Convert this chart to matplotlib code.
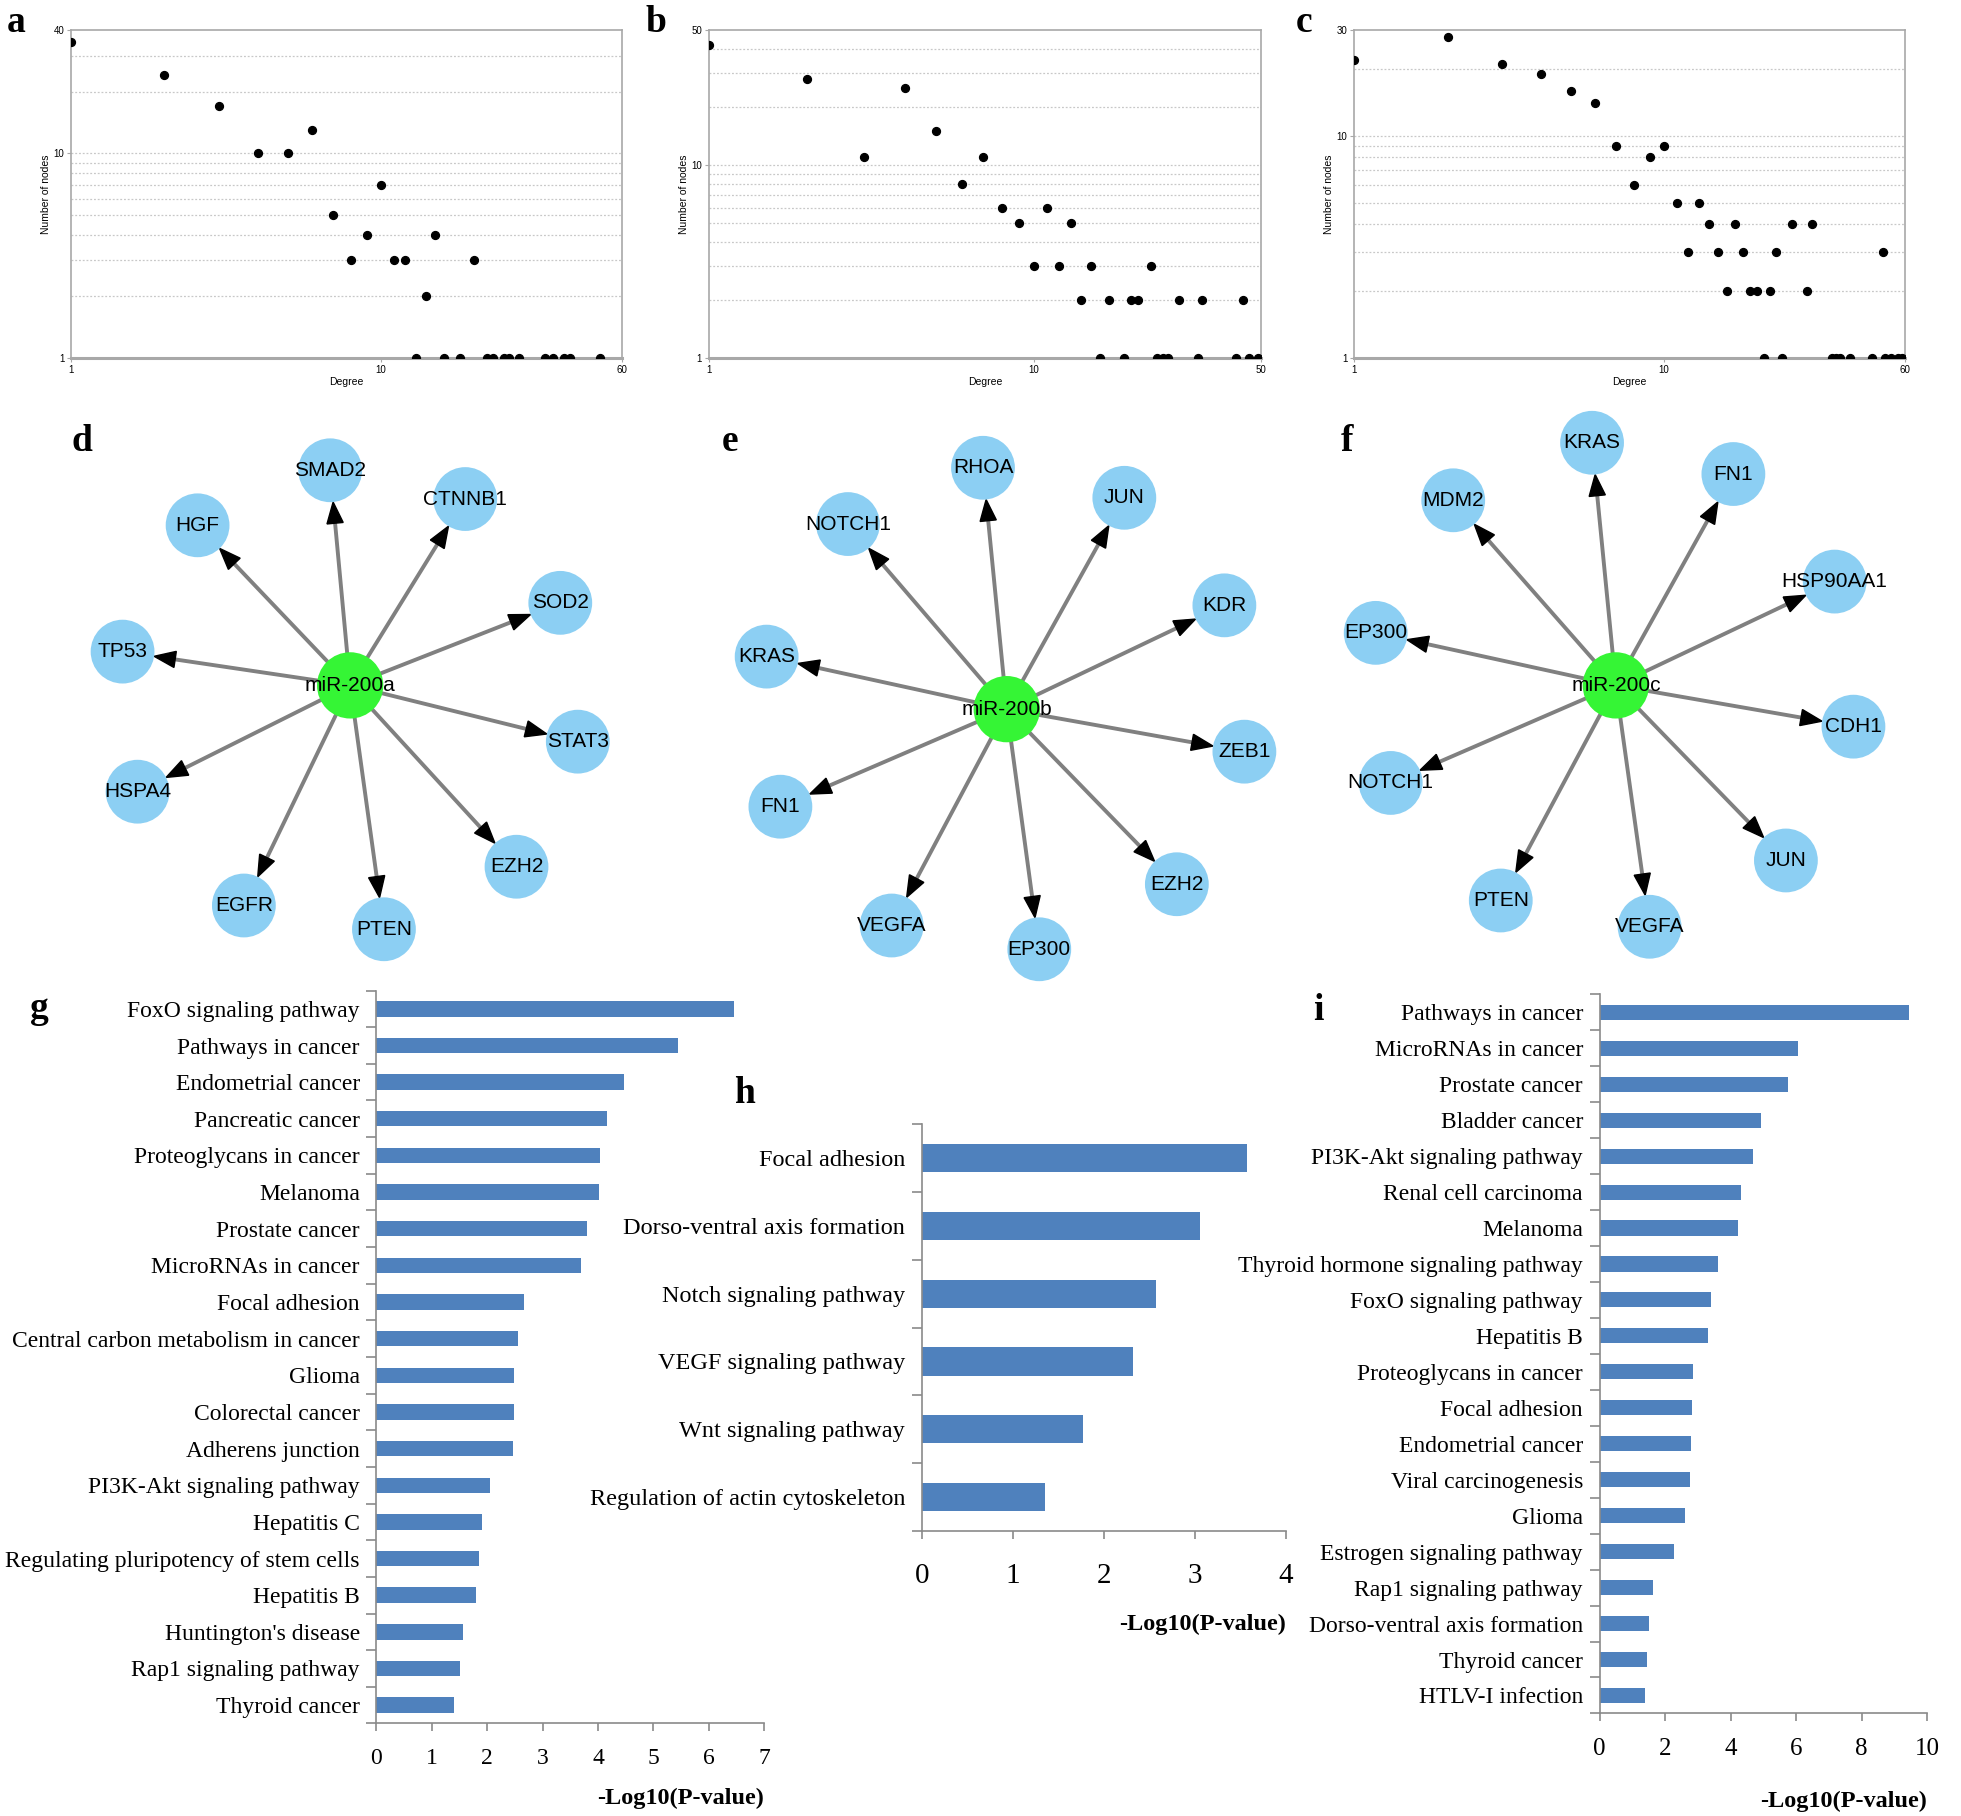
import numpy as np
import matplotlib
matplotlib.use('Agg')
import matplotlib.pyplot as plt
from matplotlib.patches import Circle, Polygon
from matplotlib.ticker import NullLocator

plt.rcParams['font.family'] = ['Liberation Sans', 'DejaVu Sans']

#### degree distributions (a, b, c)
deg_a = [1, 2, 3, 4, 5, 6, 7, 8, 9, 10, 11, 12, 14, 15, 20,
         13, 16, 18, 22, 23, 25, 26, 28, 34, 36, 39, 41, 51]
cnt_a = [35, 24, 17, 10, 10, 13, 5, 3, 4, 7, 3, 3, 2, 4, 3,
         1, 1, 1, 1, 1, 1, 1, 1, 1, 1, 1, 1, 1]

deg_b = [1, 2, 3, 4, 5, 6, 7, 8, 9, 10, 11, 12, 13, 15, 23,
         14, 17, 20, 21, 28, 33, 44,
         16, 19, 24, 25, 26, 32, 42, 46, 49]
cnt_b = [42, 28, 11, 25, 15, 8, 11, 6, 5, 3, 6, 3, 5, 3, 3,
         2, 2, 2, 2, 2, 2, 2,
         1, 1, 1, 1, 1, 1, 1, 1, 1]

deg_c = [1, 2, 3, 4, 5, 6, 7, 8, 9, 10, 11, 13, 14, 17, 26, 30,
         12, 15, 18, 23, 51,
         16, 19, 20, 22, 29,
         21, 24, 35, 36, 37, 40, 47, 52, 54, 57, 59]
cnt_c = [22, 28, 21, 19, 16, 14, 9, 6, 8, 9, 5, 5, 4, 4, 4, 4,
         3, 3, 3, 3, 3,
         2, 2, 2, 2, 2,
         1, 1, 1, 1, 1, 1, 1, 1, 1, 1, 1]

#### networks (d, e, f)
hub_d = 'miR-200a'
genes_d = ['SMAD2', 'CTNNB1', 'HGF', 'SOD2', 'TP53', 'STAT3', 'HSPA4', 'EZH2', 'EGFR', 'PTEN']
hub_e = 'miR-200b'
genes_e = ['RHOA', 'JUN', 'NOTCH1', 'KDR', 'KRAS', 'ZEB1', 'FN1', 'EZH2', 'VEGFA', 'EP300']
hub_f = 'miR-200c'
genes_f = ['KRAS', 'FN1', 'MDM2', 'HSP90AA1', 'EP300', 'CDH1', 'NOTCH1', 'JUN', 'PTEN', 'VEGFA']

#### KEGG enrichment (g, h, i)
path_g = ['FoxO signaling pathway', 'Pathways in cancer', 'Endometrial cancer', 'Pancreatic cancer',
          'Proteoglycans in cancer', 'Melanoma', 'Prostate cancer', 'MicroRNAs in cancer',
          'Focal adhesion', 'Central carbon metabolism in cancer', 'Glioma', 'Colorectal cancer',
          'Adherens junction', 'PI3K-Akt signaling pathway', 'Hepatitis C',
          'Regulating pluripotency of stem cells', 'Hepatitis B', "Huntington's disease",
          'Rap1 signaling pathway', 'Thyroid cancer']
val_g = [6.46, 5.44, 4.47, 4.16, 4.04, 4.02, 3.80, 3.70, 2.67, 2.55, 2.49, 2.49, 2.47,
         2.05, 1.91, 1.86, 1.80, 1.57, 1.51, 1.40]

path_h = ['Focal adhesion', 'Dorso-ventral axis formation', 'Notch signaling pathway',
          'VEGF signaling pathway', 'Wnt signaling pathway', 'Regulation of actin cytoskeleton']
val_h = [3.58, 3.06, 2.57, 2.32, 1.77, 1.36]

path_i = ['Pathways in cancer', 'MicroRNAs in cancer', 'Prostate cancer', 'Bladder cancer',
          'PI3K-Akt signaling pathway', 'Renal cell carcinoma', 'Melanoma',
          'Thyroid hormone signaling pathway', 'FoxO signaling pathway', 'Hepatitis B',
          'Proteoglycans in cancer', 'Focal adhesion', 'Endometrial cancer',
          'Viral carcinogenesis', 'Glioma', 'Estrogen signaling pathway',
          'Rap1 signaling pathway', 'Dorso-ventral axis formation', 'Thyroid cancer',
          'HTLV-I infection']
val_i = [9.43, 6.05, 5.74, 4.93, 4.69, 4.32, 4.21, 3.61, 3.41, 3.31, 2.86, 2.83, 2.80,
         2.75, 2.61, 2.26, 1.63, 1.51, 1.46, 1.39]

# layout is worked out on a 1568 x 1452 grid
W, H = 1568.0, 1452.0
fig = plt.figure(figsize=(19.61, 18.16), dpi=100)


def rect(x0, y0, x1, y1):
    return [x0 / W, 1 - y1 / H, (x1 - x0) / W, (y1 - y0) / H]


def degree_panel(r, deg, cnt, xmax, ymax):
    ax = fig.add_axes(r)
    ax.scatter(deg, cnt, s=32, c='black', zorder=3, clip_on=True)
    ax.set_xscale('log')
    ax.set_yscale('log')
    ax.set_xlim(1, xmax)
    ax.set_ylim(1, ymax)
    ax.xaxis.set_minor_locator(NullLocator())
    ax.yaxis.set_minor_locator(NullLocator())
    ax.set_xticks([1, 10, xmax])
    ax.set_xticklabels(['1', '10', str(xmax)])
    ax.set_yticks([1, 10, ymax])
    ax.set_yticklabels(['1', '10', str(ymax)])
    for g in list(range(2, 10)) + [10, 20, 30, 40]:
        if g < ymax:
            ax.axhline(g, color='#c8c8c8', lw=0.9, ls=(0, (1.5, 1.5)), zorder=1)
    for s in ax.spines.values():
        s.set_color('#a8a8a8')
        s.set_linewidth(1.2)
    ax.spines['bottom'].set_linewidth(2.2)
    ax.tick_params(labelsize=7, length=3, color='#a8a8a8', pad=2)
    ax.set_xlabel('Degree', fontsize=7.5, labelpad=2)
    ax.set_ylabel('Number of nodes', fontsize=7.5, labelpad=2)
    return ax


degree_panel(rect(57, 24, 497, 286), deg_a, cnt_a, 60, 40)
degree_panel(rect(567, 24, 1008, 286), deg_b, cnt_b, 50, 50)
degree_panel(rect(1083, 24, 1523, 286), deg_c, cnt_c, 60, 30)


def bar_panel(r, names, vals, xmax, xstep, fs, tfs, tpad, lpad):
    ax = fig.add_axes(r)
    y = np.arange(len(names))
    ax.barh(y, vals, height=0.42, color='#4F81BD', zorder=2)
    ax.set_ylim(len(names) - 0.5, -0.5)
    ax.set_xlim(0, xmax)
    ax.set_xticks(np.arange(0, xmax + 0.01, xstep))
    ax.set_yticks(y)
    ax.set_yticklabels(names, fontfamily='Liberation Serif', fontsize=fs)
    ax.set_yticks(np.arange(-0.5, len(names)), minor=True)
    ax.tick_params(axis='y', which='major', length=0, pad=12)
    ax.tick_params(axis='y', which='minor', length=7, color='#8a8a8a', width=1.2)
    ax.tick_params(axis='x', length=6, color='#8a8a8a', width=1.2, labelsize=tfs, pad=tpad)
    for lab in ax.get_xticklabels():
        lab.set_fontfamily('Liberation Serif')
    ax.spines['top'].set_visible(False)
    ax.spines['right'].set_visible(False)
    ax.spines['left'].set_color('#8a8a8a')
    ax.spines['bottom'].set_color('#8a8a8a')
    ax.spines['left'].set_linewidth(1.2)
    ax.spines['bottom'].set_linewidth(1.2)
    ax.set_xlabel('-Log10(P-value)', fontfamily='Liberation Serif', fontweight='bold',
                  fontsize=17.5, loc='right', labelpad=lpad)
    ax.set_facecolor('none')
    return ax


bar_panel(rect(301, 792, 611, 1378), path_g, val_g, 7, 1, 17, 17, 12, 13)
bar_panel(rect(737, 899, 1028, 1224), path_h, val_h, 4, 1, 17.5, 21, 17, 18)
bar_panel(rect(1279, 795, 1541, 1370), path_i, val_i, 10, 2, 17, 18, 12, 22)

# overlay for networks and panel letters, in grid units
ov = fig.add_axes([0, 0, 1, 1], zorder=10)
ov.set_xlim(0, W)
ov.set_ylim(H, 0)
ov.set_aspect('equal')
ov.axis('off')
ov.patch.set_alpha(0)

pos_d = {'miR-200a': (280, 548), 'SMAD2': (264, 376), 'CTNNB1': (372, 399), 'HGF': (158, 420),
         'SOD2': (448, 482), 'TP53': (98, 521), 'STAT3': (462, 593), 'HSPA4': (110, 633),
         'EZH2': (413, 693), 'EGFR': (195, 724), 'PTEN': (307, 743)}
pos_e = {'miR-200b': (805, 567), 'RHOA': (786, 374), 'JUN': (899, 398), 'NOTCH1': (678, 419),
         'KDR': (979, 484), 'KRAS': (613, 525), 'ZEB1': (995, 601), 'FN1': (624, 645),
         'EZH2': (941, 707), 'VEGFA': (713, 740), 'EP300': (831, 759)}
pos_f = {'miR-200c': (1292, 548), 'KRAS': (1273, 354), 'FN1': (1386, 379), 'MDM2': (1162, 400),
         'HSP90AA1': (1467, 465), 'EP300': (1100, 506), 'CDH1': (1482, 581),
         'NOTCH1': (1112, 626), 'JUN': (1428, 688), 'PTEN': (1200, 720), 'VEGFA': (1319, 741)}

NODE_R = 25.5
HEAD_L = 17
HEAD_W = 6.5


def star(hub, genes, pos):
    cx, cy = pos[hub]
    for name in genes:
        x, y = pos[name]
        d = np.hypot(x - cx, y - cy)
        ux, uy = (x - cx) / d, (y - cy) / d
        tx, ty = x - ux * NODE_R, y - uy * NODE_R
        bx, by = tx - ux * HEAD_L, ty - uy * HEAD_L
        ov.plot([cx, bx], [cy, by], color='#808080', lw=2.8, zorder=1, solid_capstyle='butt')
        ov.add_patch(Polygon([(tx, ty), (bx - uy * HEAD_W, by + ux * HEAD_W),
                              (bx + uy * HEAD_W, by - ux * HEAD_W)],
                             closed=True, color='black', zorder=2))
        ov.add_patch(Circle((x, y), NODE_R, color='#8CCFF3', zorder=3, lw=0))
        ov.text(x, y, name, ha='center', va='center', fontsize=15, zorder=4)
    ov.add_patch(Circle((cx, cy), NODE_R + 1, color='#35F535', zorder=3, lw=0))
    ov.text(cx, cy, hub, ha='center', va='center', fontsize=15, zorder=4)


star(hub_d, genes_d, pos_d)
star(hub_e, genes_e, pos_e)
star(hub_f, genes_f, pos_f)

letters = {'a': (5, 18), 'b': (516, 18), 'c': (1036, 18), 'd': (57, 353), 'e': (577, 353),
           'f': (1072, 353), 'g': (24, 806), 'h': (587, 874), 'i': (1050, 808)}
for k, (x, y) in letters.items():
    ov.text(x, y, k, ha='left', va='center', fontsize=27, fontweight='bold',
            fontfamily='Liberation Serif')

fig.savefig('out.png', dpi=100)
